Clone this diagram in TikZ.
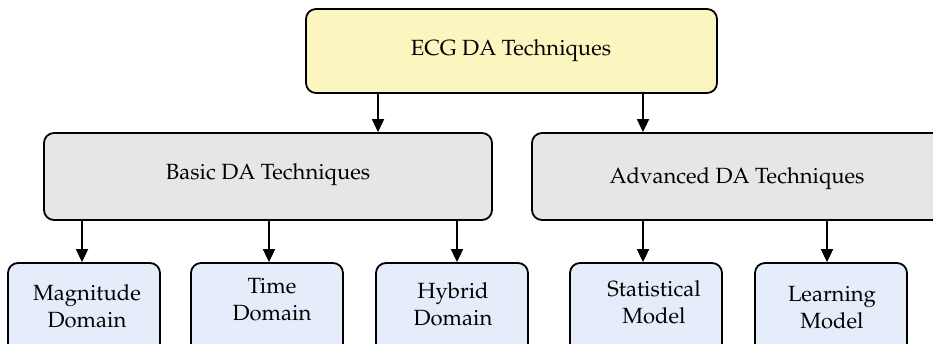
\documentclass[tikz,border=0pt]{standalone}
\usepackage[T1]{fontenc}
\usepackage{mathpazo}
\usetikzlibrary{arrows.meta}
\definecolor{topfill}{RGB}{251,246,192}
\definecolor{midfill}{RGB}{230,230,230}
\definecolor{leaffill}{RGB}{229,236,250}
\tikzset{
  boxbase/.style={draw=black, line width=1.8pt, rounded corners=10pt, inner sep=0pt, rectangle},
  topbox/.style={boxbase, fill=topfill},
  midbox/.style={boxbase, fill=midfill},
  leafbox/.style={boxbase, fill=leaffill, minimum width=152pt, minimum height=97pt},
  lbl/.style={font=\fontsize{22}{27}\selectfont, align=center, inner sep=0pt, anchor=base},
  conn/.style={line width=1.8pt, -{Triangle[length=13pt,width=12pt]}},
}
\begin{document}
\begin{tikzpicture}[x=1pt,y=-1pt]
\useasboundingbox (0,0) rectangle (933,343);
\clip (0,0) rectangle (933,343);
% boxes
\node[topbox, minimum width=411pt, minimum height=84pt] (ecg) at (511.5,51) {};
\node[midbox, minimum width=448pt, minimum height=87pt] (basic) at (268,176.5) {};
\node[midbox, minimum width=413pt, minimum height=87pt] (adv) at (738.5,176.5) {};
\node[leafbox] (mag) at (84,311.5) {};
\node[leafbox] (time) at (267,311.5) {};
\node[leafbox] (hyb) at (452,311.5) {};
\node[leafbox] (stat) at (646,311.5) {};
\node[leafbox] (learn) at (831,311.5) {};
% connector columns
\coordinate (c1) at (378,0);
\coordinate (c2) at (643,0);
\coordinate (c3) at (82,0);
\coordinate (c4) at (269,0);
\coordinate (c5) at (457,0);
\coordinate (c6) at (643,0);
\coordinate (c7) at (827,0);
% texts
\node[lbl] (ecgtxt) at (511,55) {ECG DA Techniques};
\node[lbl] (basictxt) at (268,179) {Basic DA Techniques};
\node[lbl] (advtxt) at (737,183) {Advanced DA Techniques};
\node[lbl] (magtxt) at (87,327) {Magnitude\\Domain};
\node[lbl] (timetxt) at (272,320) {Time\\Domain};
\node[lbl] (hybtxt) at (453,325) {Hybrid\\Domain};
\node[lbl] (stattxt) at (654,323) {Statistical\\Model};
\node[lbl] (learntxt) at (832,328) {Learning\\Model};
% connectors
\draw[conn] (ecg.south -| c1) -- (basic.north -| c1);
\draw[conn] (ecg.south -| c2) -- (adv.north -| c2);
\draw[conn] (basic.south -| c3) -- (mag.north -| c3);
\draw[conn] (basic.south -| c4) -- (time.north -| c4);
\draw[conn] (basic.south -| c5) -- (hyb.north -| c5);
\draw[conn] (adv.south -| c6) -- (stat.north -| c6);
\draw[conn] (adv.south -| c7) -- (learn.north -| c7);
\end{tikzpicture}
\end{document}
